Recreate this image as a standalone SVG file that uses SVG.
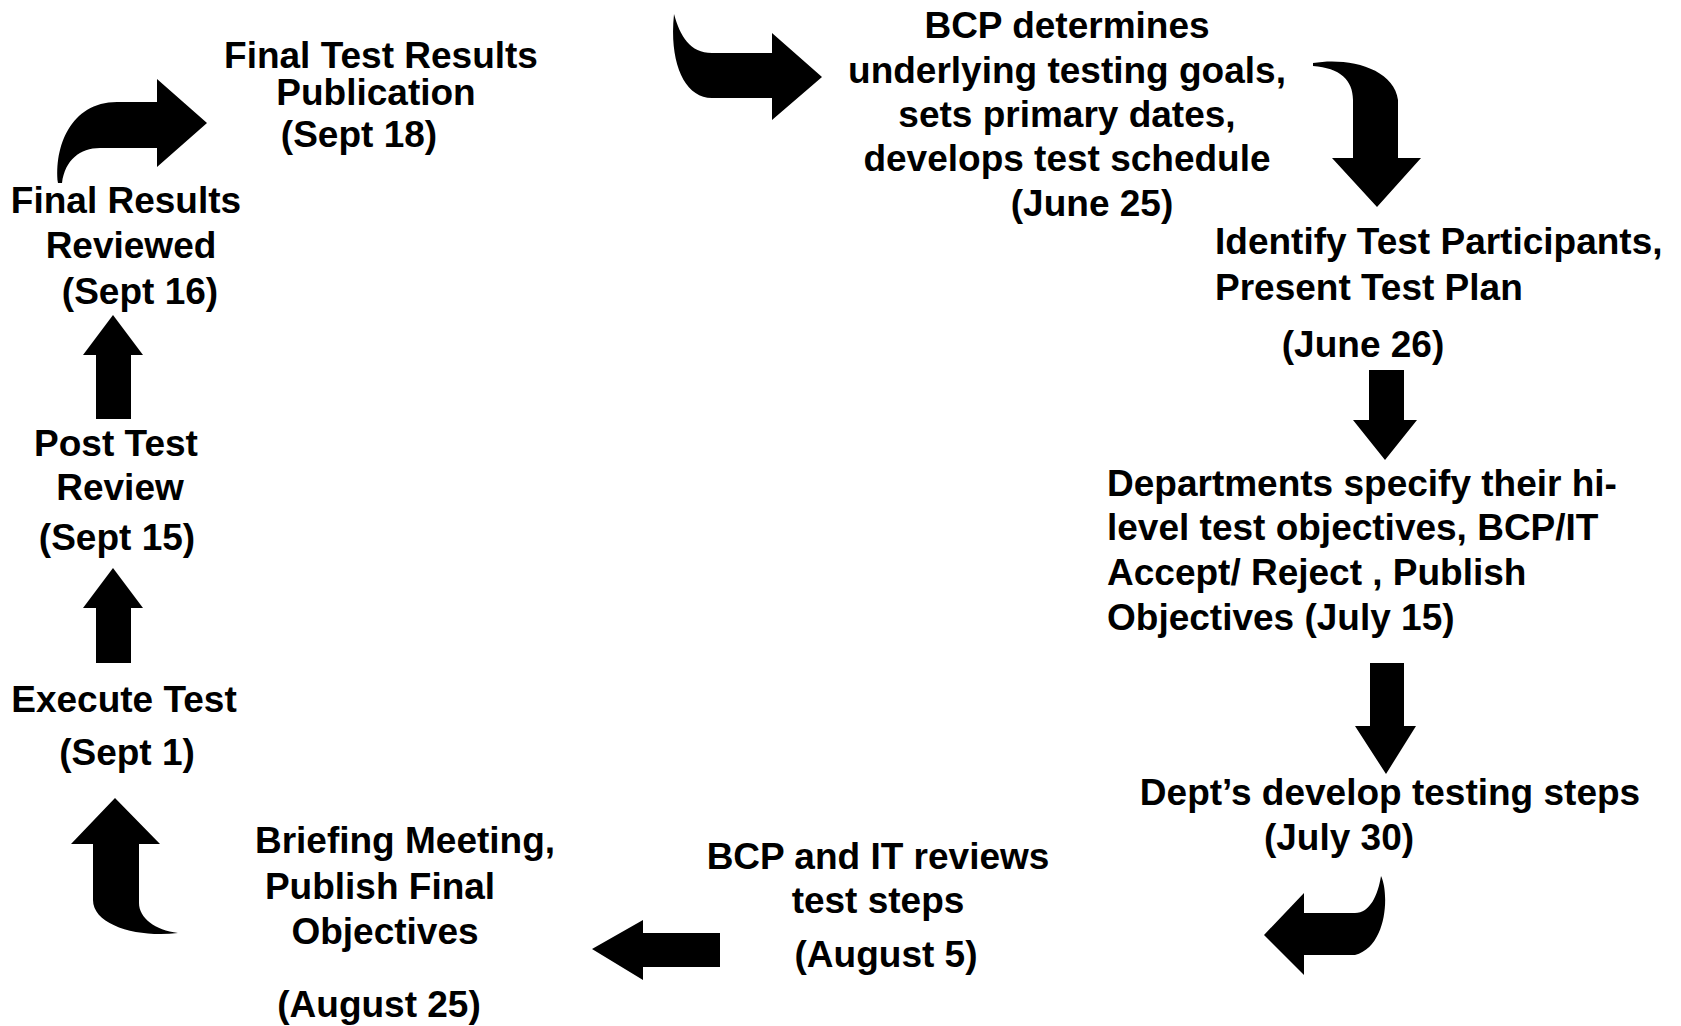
<svg xmlns="http://www.w3.org/2000/svg" width="1681" height="1026" viewBox="0 0 1681 1026">
  <style>
    .lbl { font-family: "Liberation Sans", Arial, sans-serif; font-weight: bold; font-size: 37px; fill: #000; }
    .mid { text-anchor: middle; }
    .arr { fill: #000; stroke: none; }
  </style>
  <rect width="1681" height="1026" fill="#fff"/>

  <!-- process steps -->
  <g id="node-goals">
    <text class="lbl mid" x="1067" y="38">BCP determines</text>
    <text class="lbl mid" x="1067" y="83">underlying testing goals,</text>
    <text class="lbl mid" x="1067" y="127">sets primary dates,</text>
    <text class="lbl mid" x="1067" y="171">develops test schedule</text>
    <text class="lbl mid" x="1092" y="216">(June 25)</text>
  </g>

  <g id="node-participants">
    <text class="lbl" x="1215" y="254">Identify Test Participants,</text>
    <text class="lbl" x="1215" y="300">Present Test Plan</text>
    <text class="lbl mid" x="1363" y="357">(June 26)</text>
  </g>

  <g id="node-objectives">
    <text class="lbl" x="1107" y="496">Departments specify their hi-</text>
    <text class="lbl" x="1107" y="540">level test objectives, BCP/IT</text>
    <text class="lbl" x="1107" y="585">Accept/ Reject , Publish</text>
    <text class="lbl" x="1107" y="630">Objectives (July 15)</text>
  </g>

  <g id="node-steps">
    <text class="lbl mid" x="1390" y="805">Dept’s develop testing steps</text>
    <text class="lbl mid" x="1339" y="850">(July 30)</text>
  </g>

  <g id="node-review-steps">
    <text class="lbl mid" x="878" y="869">BCP and IT reviews</text>
    <text class="lbl mid" x="878" y="913">test steps</text>
    <text class="lbl mid" x="886" y="967">(August 5)</text>
  </g>

  <g id="node-briefing">
    <text class="lbl mid" x="405" y="853">Briefing Meeting,</text>
    <text class="lbl mid" x="380" y="899">Publish Final</text>
    <text class="lbl mid" x="385" y="944">Objectives</text>
    <text class="lbl mid" x="379" y="1017">(August 25)</text>
  </g>

  <g id="node-execute">
    <text class="lbl mid" x="124" y="712">Execute Test</text>
    <text class="lbl mid" x="127" y="765">(Sept 1)</text>
  </g>

  <g id="node-post-review">
    <text class="lbl mid" x="116" y="456">Post Test</text>
    <text class="lbl mid" x="120" y="500">Review</text>
    <text class="lbl mid" x="117" y="550">(Sept 15)</text>
  </g>

  <g id="node-final-review">
    <text class="lbl mid" x="126" y="213">Final Results</text>
    <text class="lbl mid" x="131" y="258">Reviewed</text>
    <text class="lbl mid" x="140" y="304">(Sept 16)</text>
  </g>

  <g id="node-publication">
    <text class="lbl mid" x="381" y="68">Final Test Results</text>
    <text class="lbl mid" x="376" y="105">Publication</text>
    <text class="lbl mid" x="359" y="147">(Sept 18)</text>
  </g>

  <!-- block arrows linking the steps -->
  <g id="connectors">
    <!-- curved: publication to goals -->
    <path class="arr" d="M674,14 C680,36 690,53 712,53 L772,53 L772,33 L822,77 L772,120 L772,98 L712,98 C684,98 669,62 674,14 Z"/>
    <!-- curved: goals to participants -->
    <path class="arr" d="M1313,63 C1348,57 1394,68 1398,100 L1398,158 L1421,158 L1377,207 L1332,158 L1353,158 L1353,100 C1353,80 1340,68 1313,66 Z"/>
    <!-- straight down: participants to objectives -->
    <path class="arr" d="M1369,370 L1404,370 L1404,420 L1417,420 L1385,460 L1353,420 L1369,420 Z"/>
    <!-- straight down: objectives to steps -->
    <path class="arr" d="M1370,663 L1404,663 L1404,726 L1416,726 L1386,774 L1355,726 L1370,726 Z"/>
    <!-- curved: steps to review -->
    <path class="arr" d="M1264,935 L1304,893 L1304,913 L1355,913 C1370,913 1378,895 1381,876 C1389,892 1388,946 1355,955 L1304,955 L1304,975 Z"/>
    <!-- straight left: review to briefing -->
    <path class="arr" d="M720,933 L720,967 L643,967 L643,980 L592,949 L643,920 L643,933 Z"/>
    <!-- curved: briefing to execute -->
    <path class="arr" d="M115,798 L160,844 L139,844 L139,903 C139,918 155,930 178,933 C140,938 93,926 93,900 L93,844 L71,844 Z"/>
    <!-- straight up: execute to post review -->
    <path class="arr" d="M113,568 L143,608 L131,608 L131,663 L96,663 L96,608 L83,608 Z"/>
    <!-- straight up: post review to final review -->
    <path class="arr" d="M113,315 L143,355 L131,355 L131,419 L96,419 L96,355 L83,355 Z"/>
    <!-- curved: final review to publication -->
    <path class="arr" d="M58,183 C54,148 70,102 117,102 L157,102 L157,79 L207,123 L157,167 L157,148 L100,148 C80,148 65,160 62,183 Z"/>
  </g>
</svg>
